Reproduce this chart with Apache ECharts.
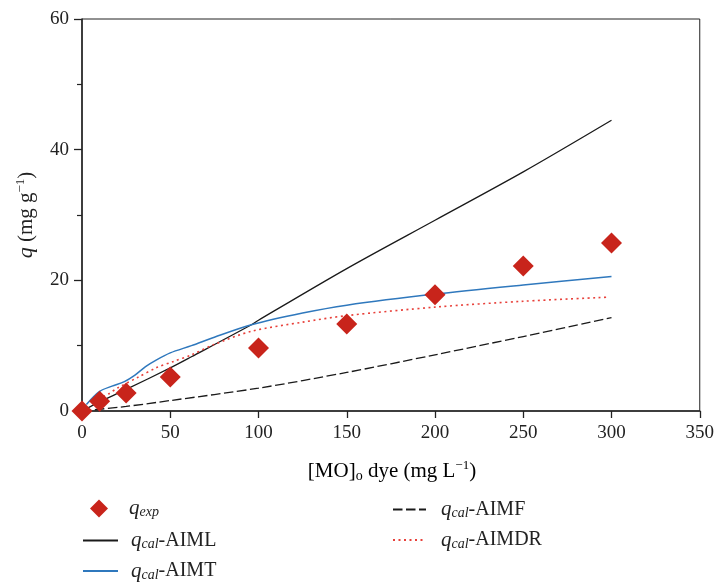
<!DOCTYPE html>
<html><head><meta charset="utf-8">
<script src="https://cdn.jsdelivr.net/npm/echarts@6/dist/echarts.min.js"></script>
<style>html,body{margin:0;padding:0;background:#fff}#c{width:717px;height:584px}</style>
</head><body><div id="c"></div>
<script>
// Experimental points
const expX = [0, 10, 25, 50, 100, 150, 200, 250, 300];
const expQ = [0, 1.5, 2.75, 5.2, 9.65, 13.3, 17.8, 22.2, 25.7];
// Langmuir (AIML)
const lX = [0, 10, 25, 50, 62, 96, 100, 150, 200, 250, 300];
const lQ = [0, 1.4, 3.3, 6.6, 8.3, 13.2, 13.9, 21.8, 29.2, 36.6, 44.5];
// Temkin (AIMT)
const tX = [2.5, 10, 17, 24, 30, 36, 42, 50, 62, 75, 96, 125, 150, 200, 250, 300];
const tQ = [1.0, 3.0, 3.8, 4.5, 5.5, 6.8, 7.8, 8.9, 10.0, 11.3, 13.2, 15.0, 16.2, 17.9, 19.3, 20.6];
// Freundlich (AIMF)
const fX = [0, 25, 50, 100, 150, 200, 250, 300];
const fQ = [0, 0.7, 1.6, 3.5, 5.9, 8.6, 11.4, 14.3];
// Dubinin-Radushkevich (AIMDR)
const dX = [12, 15, 20, 32, 42, 52, 62, 75, 96, 125, 150, 200, 250, 297];
const dQ = [2.2, 2.6, 3.5, 5.2, 6.6, 7.6, 8.6, 10.2, 12.2, 13.6, 14.6, 15.9, 16.8, 17.4];

const xMin = 0, xMax = 350, xStep = 50;
const yMin = 0, yMax = 60, yStep = 20;

const FF = "'Liberation Serif', 'DejaVu Serif', serif";
const TXT = '#222';
const zip = (xs, ys) => xs.map((x, i) => [x, ys[i]]);

const rich = {
  q: {fontStyle: 'italic', fontSize: 21, fontFamily: FF, color: TXT, lineHeight: 22},
  sub: {fontStyle: 'italic', fontSize: 14, fontFamily: FF, color: TXT, lineHeight: 11, verticalAlign: 'bottom'},
  sup: {fontSize: 13, fontFamily: FF, color: TXT, lineHeight: 11, verticalAlign: 'top'},
  n: {fontSize: 20, fontFamily: FF, color: TXT, lineHeight: 22}
};
const richAxis = {
  q: {fontStyle: 'italic', fontSize: 22, fontFamily: FF, color: TXT, lineHeight: 24},
  sub: {fontSize: 14, fontFamily: FF, color: TXT, lineHeight: 11, verticalAlign: 'bottom'},
  sup: {fontSize: 13, fontFamily: FF, color: TXT, lineHeight: 11, verticalAlign: 'top'},
  n: {fontSize: 21, fontFamily: FF, color: TXT, lineHeight: 24}
};
const legendText = {
  qexp: '{q|q}{sub|exp}',
  AIML: '{q|q}{sub|cal}{n|-AIML}',
  AIMT: '{q|q}{sub|cal}{n|-AIMT}',
  AIMF: '{q|q}{sub|cal}{n|-AIMF}',
  AIMDR: '{q|q}{sub|cal}{n|-AIMDR}'
};

const chart = echarts.init(document.getElementById('c'), null, {renderer: 'canvas'});
const legendBase = (pad) => ({
  orient: 'vertical', itemWidth: 34, itemHeight: 14, itemGap: 9, padding: 0,
  formatter: n => legendText[n],
  textStyle: {rich: rich, padding: [0, 0, 0, pad], fontFamily: FF, color: TXT},
  selectedMode: false
});
const lineItem = n => ({name: n, itemStyle: {opacity: 0}});
chart.setOption({
  animation: false,
  backgroundColor: '#fff',
  grid: {left: 82, top: 19, right: 14, bottom: 173, show: true, borderColor: '#222', borderWidth: 1},
  xAxis: {
    type: 'value', min: xMin, max: xMax, interval: xStep,
    axisLine: {show: true, onZero: false, lineStyle: {color: '#222', width: 1.5}},
    axisTick: {show: true, inside: false, length: 7, lineStyle: {color: '#222', width: 1.3}},
    axisLabel: {color: TXT, fontFamily: FF, fontSize: 19, margin: 13},
    splitLine: {show: false}
  },
  yAxis: {
    type: 'value', min: yMin, max: yMax, interval: yStep,
    axisLine: {show: true, onZero: false, lineStyle: {color: '#222', width: 1.5}},
    axisTick: {show: true, inside: false, length: 8, lineStyle: {color: '#222', width: 1.3}},
    minorTick: {show: true, splitNumber: 2, length: 5, lineStyle: {color: '#222', width: 1.2}},
    axisLabel: {color: TXT, fontFamily: FF, fontSize: 19, margin: 13},
    splitLine: {show: false},
    name: '{q|q}{n| (mg g}{sup|−1}{n|)}',
    nameLocation: 'middle', nameRotate: 90, nameGap: 44,
    nameTextStyle: {rich: richAxis}
  },
  graphic: [{
    type: 'text', x: 392, y: 471,
    style: {
      text: '{n|[MO]}{sub|o}{n| dye (mg L}{sup|−1}{n|)}',
      rich: richAxis,
      align: 'center', verticalAlign: 'middle'
    }
  }],
  legend: [
    Object.assign(legendBase(16), {left: 90, top: 498, itemWidth: 18, itemHeight: 18, data: ['qexp']}),
    Object.assign(legendBase(8), {left: 82, top: 530, itemWidth: 35, data: [lineItem('AIML'), lineItem('AIMT')]}),
    Object.assign(legendBase(10), {left: 392, top: 499, itemWidth: 33, data: [lineItem('AIMF'), lineItem('AIMDR')]})
  ],
  series: [
    {name: 'AIML', type: 'line', data: zip(lX, lQ), smooth: 0.3, symbol: 'none', showSymbol: false,
     lineStyle: {color: '#1a1a1a', width: 1.3}, itemStyle: {color: '#1a1a1a'}},
    {name: 'AIMT', type: 'line', data: zip(tX, tQ), smooth: 0.3, symbol: 'none', showSymbol: false,
     lineStyle: {color: '#2f78bd', width: 1.5}, itemStyle: {color: '#2f78bd'}},
    {name: 'AIMF', type: 'line', data: zip(fX, fQ), smooth: 0.3, symbol: 'none', showSymbol: false,
     lineStyle: {color: '#1a1a1a', width: 1.3, type: [9.5, 3.5]}, itemStyle: {color: '#1a1a1a'}},
    {name: 'AIMDR', type: 'line', data: zip(dX, dQ), smooth: 0.3, symbol: 'none', showSymbol: false,
     lineStyle: {color: '#e8403a', width: 1.6, type: [2, 3.5]}, itemStyle: {color: '#e8403a'}},
    {name: 'qexp', type: 'scatter', data: zip(expX, expQ), symbol: 'diamond', symbolSize: 21, z: 5,
     itemStyle: {color: '#c8241b', opacity: 1}}
  ]
});
</script></body></html>
